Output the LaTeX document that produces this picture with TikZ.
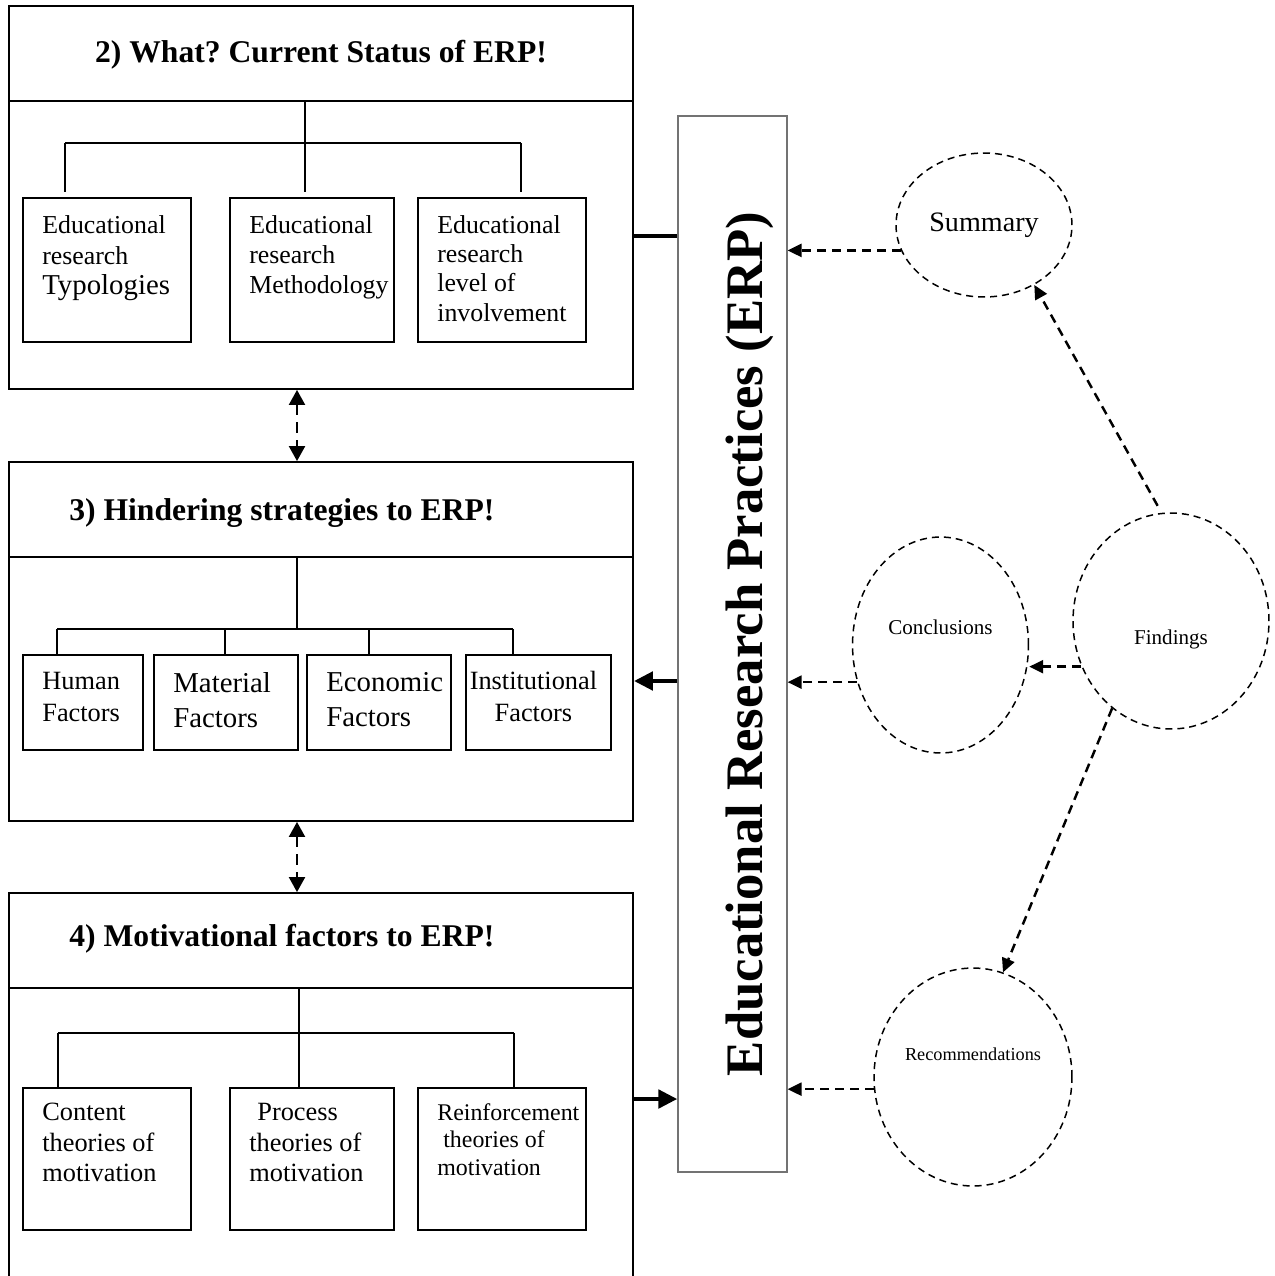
\documentclass[tikz,border=0pt]{standalone}
\usepackage{fontspec}
\setmainfont{Liberation Serif}
\usetikzlibrary{arrows.meta,shapes.geometric}
\frenchspacing

\begin{document}
\begin{tikzpicture}[x=0.02cm,y=-0.02cm]
\tikzset{frame/.style = {draw, line width=1.1pt, minimum width=12.48cm, inner sep=0pt}}
\tikzset{head/.style = {frame, minimum height=1.9cm}}
\tikzset{title/.style = {anchor=base west, inner sep=0pt, font=\fontsize{18}{22}\selectfont\bfseries}}
\tikzset{kid/.style = {draw, line width=1.1pt, anchor=north west, inner sep=0pt}}
\tikzset{kidfont/.style = {inner sep=0pt, font=\fontsize{14.7}{17}\selectfont}}
\tikzset{kidtext/.style = {kidfont, anchor=north west, align=left, xshift=0.4cm, yshift=-0.36cm}}
\tikzset{tree/.style = {line width=0.9pt}}
\tikzset{bubble/.style = {draw, ellipse, dash pattern=on 0.14cm off 0.1cm, line width=0.85pt, inner sep=0pt}}
\tikzset{dashedge/.style = {-{Triangle[length=0.28cm,width=0.26cm]}, dash pattern=on 0.18cm off 0.12cm, line width=1.4pt}}
\tikzset{twoway/.style = {{Triangle[length=0.3cm,width=0.32cm]}-{Triangle[length=0.3cm,width=0.32cm]}, dash pattern=on 0.22cm off 0.14cm, line width=1.2pt}}
\tikzset{thickedge/.style = {-{Triangle[length=0.38cm,width=0.36cm]}, line width=2.8pt}}
\useasboundingbox (0,0) rectangle (1275,1276);

% 2) current status
\node[frame, minimum height=7.66cm] (f1) at (321,197.5) {};
\node[head] (head1) at (321,53.5) {};
\node[title, anchor=base] (t1) at (321,62) {2) What? Current Status of ERP!};
\node[kid, minimum width=3.36cm, minimum height=2.88cm] (k11) at (22,197) {};
\node[kid, minimum width=3.28cm, minimum height=2.88cm] (k12) at (229,197) {};
\node[kid, minimum width=3.36cm, minimum height=2.88cm] (k13) at (417,197) {};
\node[kidtext, font=\fontsize{14.7}{17.5}\selectfont] (k11t) at (k11.north west) {Educational\\research\\{\fontsize{16.4}{18}\selectfont Typologies}};
\node[kidtext] (k12t) at (k12.north west) {Educational\\research\\Methodology};
\node[kidtext, font=\fontsize{14.7}{16.7}\selectfont] (k13t) at (k13.north west) {Educational\\research\\level of\\involvement};
\foreach \x [count=\i] in {65,305,521} \coordinate (d1\i) at (\x,143);
\draw[tree] (d12 |- head1.south) -- (d12);
\draw[tree] (d11) -- (d13);
\foreach \i in {1,2,3} \draw[tree, shorten >=0.1cm] (d1\i) -- (d1\i |- k1\i.north);

% 3) hindering strategies
\node[frame, minimum height=7.18cm] (f2) at (321,641.5) {};
\node[head] (head2) at (321,509.5) {};
\node[title] (t2) at (69,520) {3) Hindering strategies to ERP!};
\node[kid, minimum width=2.4cm, minimum height=1.9cm] (k21) at (22,654) {};
\node[kid, minimum width=2.88cm, minimum height=1.9cm] (k22) at (153,654) {};
\node[kid, minimum width=2.88cm, minimum height=1.9cm] (k23) at (306,654) {};
\node[kid, minimum width=2.9cm, minimum height=1.9cm] (k24) at (465,654) {};
\node[kidtext, font=\fontsize{15}{18.1}\selectfont] (k21t) at (k21.north west) {Human\\Factors};
\node[kidtext, font=\fontsize{16.4}{19.8}\selectfont] (k22t) at (k22.north west) {Material\\Factors};
\node[kidtext, font=\fontsize{16.4}{19.8}\selectfont] (k23t) at (k23.north west) {Economic\\Factors};
\node[kidfont, font=\fontsize{15}{18.1}\selectfont, anchor=north, align=center, xshift=-0.1cm, yshift=-0.34cm] (k24t) at (k24.north) {Institutional\\Factors};
\coordinate (m2) at (297,629);
\foreach \x [count=\i] in {57,225,369,513} \coordinate (d2\i) at (\x,629);
\draw[tree] (m2 |- head2.south) -- (m2);
\draw[tree] (d21) -- (d24);
\foreach \i in {1,...,4} \draw[tree] (d2\i) -- (d2\i |- k2\i.north);

% 4) motivational factors
\node[frame, minimum height=8.24cm] (f3) at (321,1099) {};
\node[head] (head3) at (321,940.5) {};
\node[title] (t3) at (69,946) {4) Motivational factors to ERP!};
\node[kid, minimum width=3.36cm, minimum height=2.84cm] (k31) at (22,1087) {};
\node[kid, minimum width=3.28cm, minimum height=2.84cm] (k32) at (229,1087) {};
\node[kid, minimum width=3.36cm, minimum height=2.84cm] (k33) at (417,1087) {};
\node[kidtext, font=\fontsize{15}{17.3}\selectfont, yshift=0.04cm] (k31t) at (k31.north west) {Content\\theories of\\motivation};
\node[kidtext, font=\fontsize{15}{17.3}\selectfont, yshift=0.04cm] (k32t) at (k32.north west) {\hspace*{0.16cm}Process\\theories of\\motivation};
\node[kidtext, font=\fontsize{13.6}{15.6}\selectfont, yshift=0.04cm] (k33t) at (k33.north west) {Reinforcement\\\hspace*{0.12cm}theories of\\motivation};
\foreach \x [count=\i] in {58,299,514} \coordinate (d3\i) at (\x,1033);
\draw[tree] (d32 |- head3.south) -- (d32);
\draw[tree] (d31) -- (d33);
\foreach \i in {1,2,3} \draw[tree] (d3\i) -- (d3\i |- k3\i.north);

% links between the frames
\draw[twoway] ([xshift=-0.48cm]f1.south) -- ([xshift=-0.48cm]f2.north);
\draw[twoway] ([xshift=-0.48cm]f2.south) -- ([xshift=-0.48cm]f3.north);

% ERP column
\node[draw=black!55, line width=0.7pt, minimum width=2.18cm, minimum height=21.12cm, inner sep=0pt] (erp) at (732.5,644) {};
\node[rotate=90, inner sep=0pt, font=\fontsize{30}{36}\selectfont\bfseries] (erptext) at (750,644) {Educational Research Practices (ERP)};
\draw[line width=2.8pt] ([yshift=-0.77cm]f1.east) -- ([yshift=-0.77cm]f1.east -| erp.west);
\draw[thickedge] ([yshift=-0.79cm]f2.east -| erp.west) -- ([yshift=-0.79cm]f2.east);
\draw[thickedge] (f3.east) -- (f3.east -| erp.west);

% outcome bubbles
\node[bubble, minimum width=3.52cm, minimum height=2.88cm, font=\fontsize{16}{19}\selectfont] (sum) at (984,225) {Summary};
\node[bubble, minimum width=3.52cm, minimum height=4.32cm, font=\fontsize{12}{14}\selectfont, text depth=0.72cm] (conc) at (940.5,645) {Conclusions};
\node[bubble, minimum width=3.92cm, minimum height=4.32cm, font=\fontsize{12}{14}\selectfont, text height=1.05cm] (find) at (1171,621) {Findings};
\node[bubble, minimum width=3.96cm, minimum height=4.36cm, font=\fontsize{10.4}{12}\selectfont, text depth=0.92cm] (rec) at (973,1077) {Recommendations};
\draw[dashedge] (sum.197) -- (sum.197 -| erp.east);
\draw[dashedge] (conc.204) -- (conc.204 -| erp.east);
\draw[dashedge] (rec.187) -- (rec.187 -| erp.east);
\draw[dashedge] (find.207) -- (find.207 -| conc.east);
\draw[dashedge, shorten <=0.16cm] (find.95) -- (sum.-50);
\draw[dashedge] (find.236) -- (rec.74);
\end{tikzpicture}
\end{document}
